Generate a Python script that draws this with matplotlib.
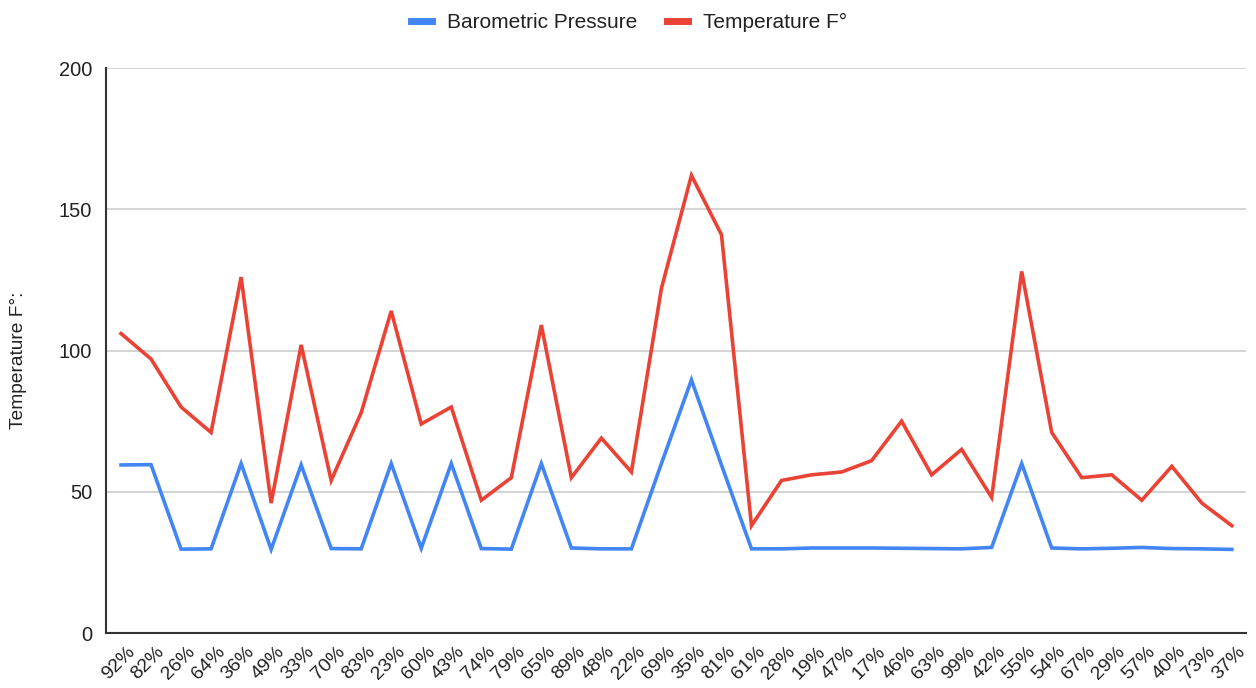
import numpy as np
import matplotlib.pyplot as plt
import matplotlib.transforms as mtrans

plt.rcParams['font.family'] = ['Liberation Sans', 'DejaVu Sans']

humidity = ['92%', '82%', '26%', '64%', '36%', '49%', '33%', '70%', '83%', '23%',
            '60%', '43%', '74%', '79%', '65%', '89%', '48%', '22%', '69%', '35%',
            '81%', '61%', '28%', '19%', '47%', '17%', '46%', '63%', '99%', '42%',
            '55%', '54%', '67%', '29%', '57%', '40%', '73%', '37%']

pressure = [59.5, 59.6, 29.7, 29.8, 60.0, 29.6, 59.5, 29.9, 29.8, 60.0,
            30.0, 60.0, 29.9, 29.7, 60.0, 30.1, 29.8, 29.8, 60.0, 89.6,
            59.5, 29.8, 29.8, 30.1, 30.1, 30.1, 30.0, 29.9, 29.8, 30.3,
            60.0, 30.1, 29.8, 30.0, 30.3, 29.9, 29.8, 29.6]

temperature = [106, 97, 80, 71, 126, 46, 102, 54, 78, 114,
               74, 80, 47, 55, 109, 55, 69, 57, 122, 162,
               141, 38, 54, 56, 57, 61, 75, 56, 65, 48,
               128, 71, 55, 56, 47, 59, 46, 38]

x = np.arange(len(humidity))

fig = plt.figure(figsize=(12.56, 6.88), dpi=100)
ax = fig.add_axes([0.0844, 0.0799, 0.9076, 0.8212])

ax.plot(x, pressure, color='#4285f4', lw=2.6, label='Barometric Pressure', solid_joinstyle='miter')
ax.plot(x, temperature, color='#ea4335', lw=2.6, label='Temperature F°', solid_joinstyle='miter')

ax.set_xlim(-0.5, len(humidity) - 0.53)
ax.set_ylim(0, 200)
ax.set_yticks([0, 50, 100, 150, 200])
ax.tick_params(axis='y', length=0, pad=10, labelsize=14.5, labelcolor='#222222')
ax.set_xticks(x)
ax.set_xticklabels(humidity, rotation=45, ha='right', rotation_mode='anchor')
ax.tick_params(axis='x', length=0, pad=6, labelsize=14, labelcolor='#222222')
# nudge the slanted labels right, like the original
shift = mtrans.ScaledTranslation(5 / 100, -2 / 100, fig.dpi_scale_trans)
for lab in ax.get_xticklabels():
    lab.set_transform(lab.get_transform() + shift)

ax.grid(axis='y', color='#cccccc', lw=1.2)
ax.set_axisbelow(True)

for s in ['top', 'right']:
    ax.spines[s].set_visible(False)
for s in ['left', 'bottom']:
    ax.spines[s].set_color('#333333')
    ax.spines[s].set_linewidth(1.5)

ax.set_ylabel('Temperature F°:', fontsize=13.8, color='#222222', va='center')
ax.yaxis.set_label_coords(-0.077, 0.483)

leg = ax.legend(loc='lower center', bbox_to_anchor=(0.459, 1.03), ncol=2, frameon=False,
                fontsize=15, handlelength=1.0, handletextpad=0.75, columnspacing=1.4)
for h in leg.legend_handles:
    h.set_linewidth(5)
for t in leg.get_texts():
    t.set_color('#222222')

fig.savefig('out.png', dpi=100)
